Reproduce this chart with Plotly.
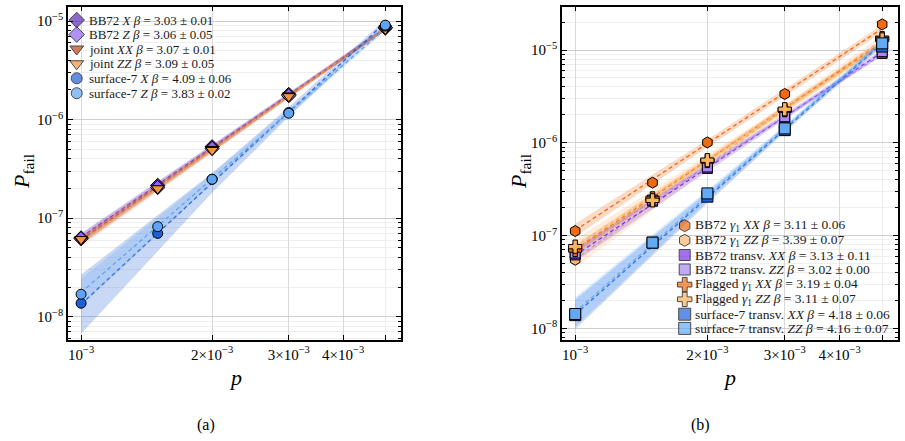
import numpy as np
import plotly.graph_objects as go

p = [1e-3, 1.5e-3, 2e-3, 3e-3, 5e-3]

# ---- panel (a) ----
a_names = ["BB72 <i>X</i>", "BB72 <i>Z</i>", "joint <i>XX</i>", "joint <i>ZZ</i>",
           "surface-7 <i>X</i>", "surface-7 <i>Z</i>"]
a_beta = ["3.03 ± 0.01", "3.06 ± 0.05", "3.07 ± 0.01", "3.09 ± 0.05", "4.09 ± 0.06", "3.83 ± 0.02"]
a_beta_val = [3.03, 3.06, 3.07, 3.09, 4.09, 3.83]
a_bb72_x = [6.3e-8, 2.15e-7, 5.3e-7, 1.8e-6, 8.5e-6]
a_bb72_z = [6.2e-8, 2.05e-7, 5.1e-7, 1.75e-6, 8.6e-6]
a_joint_xx = [6.0e-8, 2.0e-7, 5.0e-7, 1.75e-6, 8.4e-6]
a_joint_zz = [6.1e-8, 2.0e-7, 4.9e-7, 1.72e-6, 8.3e-6]
a_surf_x = [1.37e-8, 7.0e-8, 2.48e-7, 1.18e-6, 8.9e-6]
a_surf_z = [1.69e-8, 8.2e-8, 2.48e-7, 1.16e-6, 9.1e-6]
a_vals = [a_bb72_x, a_bb72_z, a_joint_xx, a_joint_zz, a_surf_x, a_surf_z]
# band half-widths (decades)
a_band = [[0.04, 0.03, 0.025, 0.02, 0.02], [0.05, 0.04, 0.03, 0.025, 0.02],
          [0.04, 0.03, 0.025, 0.02, 0.02], [0.05, 0.04, 0.03, 0.025, 0.02],
          [0.30, 0.18, 0.10, 0.05, 0.03], [0.14, 0.09, 0.05, 0.03, 0.02]]
a_colors = ["#5a2ab4", "#9265f2", "#c2430c", "#f7943a", "#1f5fd6", "#5fa4f2"]
a_symbols = ["diamond", "diamond", "triangle-down", "triangle-down", "circle", "circle"]
a_sizes = [11, 11, 11, 11, 10, 10]

# ---- panel (b) ----
b_names = ["BB72 <i>γ</i><sub>1</sub> <i>XX</i>", "BB72 <i>γ</i><sub>1</sub> <i>ZZ</i>",
           "BB72 transv. <i>XX</i>", "BB72 transv. <i>ZZ</i>",
           "Flagged <i>γ</i><sub>1</sub> <i>XX</i>", "Flagged <i>γ</i><sub>1</sub> <i>ZZ</i>",
           "surface-7 transv. <i>XX</i>", "surface-7 transv. <i>ZZ</i>"]
b_beta = ["3.11 ± 0.06", "3.39 ± 0.07", "3.13 ± 0.11", "3.02 ± 0.00",
          "3.19 ± 0.04", "3.11 ± 0.07", "4.18 ± 0.06", "4.16 ± 0.07"]
b_beta_val = [3.11, 3.39, 3.13, 3.02, 3.19, 3.11, 4.18, 4.16]
b_bb72g_xx = [1.12e-7, 3.72e-7, 1.01e-6, 3.36e-6, 1.89e-5]
b_bb72g_zz = [5.5e-8, 2.4e-7, 6.0e-7, 2.2e-6, 1.2e-5]
b_bb72t_xx = [6.2e-8, 2.35e-7, 5.3e-7, 1.84e-6, 9.2e-6]
b_bb72t_zz = [6.5e-8, 2.42e-7, 5.5e-7, 1.91e-6, 9.6e-6]
b_flag_xx = [7.0e-8, 2.52e-7, 6.37e-7, 2.25e-6, 1.34e-5]
b_flag_zz = [7.6e-8, 2.4e-7, 6.5e-7, 2.3e-6, 1.3e-5]
b_surf_xx = [1.39e-8, 8.4e-8, 2.63e-7, 1.37e-6, 1.09e-5]
b_surf_zz = [1.43e-8, 8.4e-8, 2.85e-7, 1.43e-6, 1.18e-5]
b_vals = [b_bb72g_xx, b_bb72g_zz, b_bb72t_xx, b_bb72t_zz, b_flag_xx, b_flag_zz, b_surf_xx, b_surf_zz]
b_band = [[0.07, 0.05, 0.04, 0.04, 0.04], [0.09, 0.07, 0.05, 0.05, 0.05],
          [0.07, 0.05, 0.04, 0.03, 0.03], [0.03, 0.02, 0.02, 0.02, 0.02],
          [0.05, 0.04, 0.03, 0.03, 0.03], [0.08, 0.06, 0.05, 0.04, 0.04],
          [0.16, 0.10, 0.06, 0.03, 0.03], [0.16, 0.10, 0.06, 0.03, 0.03]]
b_colors = ["#f06a12", "#fbb676", "#7a36e6", "#a98af4", "#f06a12", "#fbb35e", "#2062de", "#62aaf5"]
b_symbols = ["hexagon", "hexagon", "square", "square", "cross", "cross", "square", "square"]
b_sizes = [11, 11, 10, 10, 11, 11, 11, 11]

x_ticks = [1e-3, 2e-3, 3e-3, 4e-3]
x_ticktext = ["10<sup>−3</sup>", "2×10<sup>−3</sup>", "3×10<sup>−3</sup>", "4×10<sup>−3</sup>"]
y_ticks = [1e-8, 1e-7, 1e-6, 1e-5]
y_ticktext = ["10<sup>−8</sup>", "10<sup>−7</sup>", "10<sup>−6</sup>", "10<sup>−5</sup>"]

FONT = "Liberation Serif"


def rgba(h, a):
    h = h.lstrip('#')
    return "rgba(%d,%d,%d,%.3f)" % (int(h[0:2], 16), int(h[2:4], 16), int(h[4:6], 16), a)


fig = go.Figure()
lp = np.log10(p)


def add_panel(vals, betas, bands, colors, symbols, sizes, xa, ya):
    for v, b, bw, c in zip(vals, betas, bands, colors):
        lv = np.log10(v)
        icpt = np.mean(lv - b * lp)
        fit = icpt + b * lp
        up = 10 ** (fit + np.array(bw))
        lo = 10 ** (fit - np.array(bw))
        fig.add_trace(go.Scatter(x=list(p) + list(p[::-1]), y=list(up) + list(lo[::-1]),
                                 fill="toself", fillcolor=rgba(c, 0.24), line=dict(width=0),
                                 mode="lines", showlegend=False, hoverinfo="skip",
                                 xaxis=xa, yaxis=ya))
        fig.add_trace(go.Scatter(x=p, y=10 ** fit, mode="lines",
                                 line=dict(color=c, width=1.3, dash="4px,3px"),
                                 showlegend=False, xaxis=xa, yaxis=ya))
    for v, c, s, sz in zip(vals, colors, symbols, sizes):
        fig.add_trace(go.Scatter(x=p, y=v, mode="markers",
                                 marker=dict(color=c, symbol=s, size=sz,
                                             line=dict(color="black", width=1)),
                                 showlegend=False, xaxis=xa, yaxis=ya))


add_panel(a_vals, a_beta_val, a_band, a_colors, a_symbols, a_sizes, "x", "y")
add_panel(b_vals, b_beta_val, b_band, b_colors, b_symbols, b_sizes, "x2", "y2")


def add_legend(names, betas, colors, symbols, sizes, xa, ya, xs, xt, rows, fsize):
    fig.add_trace(go.Scatter(x=[xs] * len(names), y=rows, mode="markers",
                             marker=dict(color=colors, symbol=symbols, size=[s + 1 for s in sizes],
                                         line=dict(color="black", width=1)),
                             showlegend=False, hoverinfo="skip", xaxis=xa, yaxis=ya))
    for n, b, r in zip(names, betas, rows):
        fig.add_annotation(x=xt, y=r, xref=xa, yref=ya, xanchor="left", yanchor="middle",
                           text=n + " <i>β</i> = " + b, showarrow=False,
                           font=dict(family=FONT, size=fsize, color="#1a1a1a"))


ytop, ybot = 6.7, 340.0


def fr(yp):
    return (ybot - yp) / (ybot - ytop)


add_legend(a_names, a_beta, a_colors, a_symbols, a_sizes, "x3", "y3",
           (76.7 - 68) / 333, (87 - 68) / 333,
           [fr(y) for y in [20, 34.5, 49, 63.8, 78.3, 93.2]], 13)
add_legend(b_names, b_beta, b_colors, b_symbols, b_sizes, "x4", "y4",
           (684.7 - 562) / 336, (693 - 562) / 336,
           [fr(y) for y in [225.7, 240.3, 255, 269.5, 284.6, 299.3, 314.2, 328.4]], 13.5)

yd = [1 - ybot / 441, 1 - ytop / 441]
xd1 = [68 / 905, 401 / 905]
xd2 = [562 / 905, 898 / 905]

minor_y = [m * 10.0 ** e for e in range(-9, -4) for m in range(2, 10)]


def xaxis_cfg(dom, anchor):
    return dict(type="log", domain=dom, range=[-3.03, -2.265], tickvals=x_ticks, ticktext=x_ticktext,
                ticks="inside", ticklen=5, tickcolor="black", showline=True, linecolor="black",
                linewidth=1.5, mirror="allticks", showgrid=True, gridcolor="#d9d9d9", gridwidth=1,
                tickfont=dict(family=FONT, size=15, color="black"), zeroline=False, anchor=anchor,
                minor=dict(tickvals=[5e-3], ticks="inside", ticklen=5, tickcolor="black",
                           showgrid=True, gridcolor="#ededed"))


def yaxis_cfg(dom, rng, anchor):
    return dict(type="log", domain=dom, range=rng, tickvals=y_ticks, ticktext=y_ticktext,
                ticks="inside", ticklen=5, tickcolor="black", showline=True, linecolor="black",
                linewidth=1.5, mirror="allticks", showgrid=True, gridcolor="#cfcfcf", gridwidth=1,
                tickfont=dict(family=FONT, size=15, color="black"), zeroline=False, anchor=anchor,
                minor=dict(tickvals=minor_y, ticks="inside", ticklen=3, tickcolor="black",
                           showgrid=True, gridcolor="#efefef"))


fig.update_layout(
    width=905, height=441, margin=dict(l=0, r=0, t=0, b=0),
    paper_bgcolor="white", plot_bgcolor="white", showlegend=False,
    font=dict(family=FONT, size=13, color="black"),
    xaxis=xaxis_cfg(xd1, "y"), yaxis=yaxis_cfg(yd, [np.log10(5.8e-9), np.log10(1.4e-5)], "x"),
    xaxis2=xaxis_cfg(xd2, "y2"),
    yaxis2=yaxis_cfg(yd, [np.log10(7.5e-9), np.log10(2.93e-5)], "x2"),
    xaxis3=dict(domain=xd1, range=[0, 1], visible=False, anchor="y3", overlaying="x", fixedrange=True),
    yaxis3=dict(domain=yd, range=[0, 1], visible=False, anchor="x3", overlaying="y", fixedrange=True),
    xaxis4=dict(domain=xd2, range=[0, 1], visible=False, anchor="y4", overlaying="x2", fixedrange=True),
    yaxis4=dict(domain=yd, range=[0, 1], visible=False, anchor="x4", overlaying="y2", fixedrange=True),
)

for xc, txt in [(235, "<i>p</i>"), (729, "<i>p</i>")]:
    fig.add_annotation(x=xc / 905, y=1 - 377 / 441, xref="paper", yref="paper", text=txt,
                       showarrow=False, font=dict(family=FONT, size=22), xanchor="center", yanchor="middle")
for xc in [23, 520]:
    fig.add_annotation(x=xc / 905, y=1 - 172 / 441, xref="paper", yref="paper",
                       text="<i>P</i><sub>fail</sub>", textangle=-90,
                       showarrow=False, font=dict(family=FONT, size=22), xanchor="center", yanchor="middle")
for xc, txt in [(206, "(a)"), (700, "(b)")]:
    fig.add_annotation(x=xc / 905, y=1 - 425 / 441, xref="paper", yref="paper", text=txt,
                       showarrow=False, font=dict(family=FONT, size=16), xanchor="center", yanchor="middle")

fig.write_html("out.html")
